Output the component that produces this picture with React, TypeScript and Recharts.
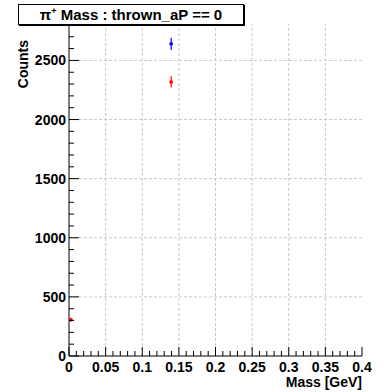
import React from 'react';
import {
  ComposedChart, Scatter, XAxis, YAxis, ErrorBar, ReferenceLine,
} from 'recharts';

// ---- data ----
const redPoints = [
  { mass: 0.0025, counts: 307, errY: 17, errX: 0.0025 },
  { mass: 0.1395, counts: 2318, errY: 48, errX: 0.0025 },
];
const bluePoints = [
  { mass: 0.1395, counts: 2640, errY: 51, errX: 0.0025 },
];
const xMajorTicks = [0, 0.05, 0.1, 0.15, 0.2, 0.25, 0.3, 0.35, 0.4];
const xTickLabels = ['0', '0.05', '0.1', '0.15', '0.2', '0.25', '0.3', '0.35', '0.4'];
const yMajorTicks = [0, 500, 1000, 1500, 2000, 2500];
const yTickLabels = ['0', '500', '1000', '1500', '2000', '2500'];
const xDomain = [0, 0.4];
const yDomain = [0, 2808];
const titleText = 'Mass : thrown_aP == 0';
const xTitle = 'Mass [GeV]';
const yTitle = 'Counts';

const xAllTicks: number[] = [];
for (let i = 0; i <= 40; i++) xAllTicks.push(i / 100);
const yAllTicks: number[] = [];
for (let v = 0; v <= 2800; v += 100) yAllTicks.push(v);

const FONT = '"Liberation Sans", Arial, Helvetica, sans-serif';
const MAJ = 9;
const MIN = 5;

const isMajorX = (v: number) => xMajorTicks.some((t) => Math.abs(t - v) < 1e-7);
const isMajorY = (v: number) => yMajorTicks.includes(v);

const BottomTick = (props: any) => {
  const { x, y, payload } = props;
  const v = payload.value;
  const major = isMajorX(v);
  const idx = xMajorTicks.findIndex((t) => Math.abs(t - v) < 1e-7);
  return (
    <g>
      <line x1={x} x2={x} y1={y} y2={y - (major ? MAJ : MIN)} stroke="#000" strokeWidth={1} />
      {major && (
        <text x={x} y={y + 16} textAnchor="middle" fontFamily={FONT} fontWeight="bold" fontSize={14} fill="#000">
          {xTickLabels[idx]}
        </text>
      )}
    </g>
  );
};

const TopTick = (props: any) => {
  const { x, y, payload } = props;
  const major = isMajorX(payload.value);
  return <line x1={x} x2={x} y1={y} y2={y + (major ? MAJ : MIN)} stroke="#000" strokeWidth={1} />;
};

const LeftTick = (props: any) => {
  const { x, y, payload } = props;
  const v = payload.value;
  const major = isMajorY(v);
  const idx = yMajorTicks.indexOf(v);
  return (
    <g>
      <line x1={x} x2={x + (major ? MAJ + 1 : MIN)} y1={y} y2={y} stroke="#000" strokeWidth={1} />
      {major && (
        <text x={x - 3} y={y + 5} textAnchor="end" fontFamily={FONT} fontWeight="bold" fontSize={14} fill="#000">
          {yTickLabels[idx]}
        </text>
      )}
    </g>
  );
};

const RightTick = (props: any) => {
  const { x, y, payload } = props;
  const major = isMajorY(payload.value);
  return <line x1={x} x2={x - (major ? MAJ + 1 : MIN)} y1={y} y2={y} stroke="#000" strokeWidth={1} />;
};

const makeMarker = (color: string) => (props: any) => {
  const { cx, cy } = props;
  if (cx == null || cy == null) return <g />;
  return <rect x={cx - 1.5} y={cy - 1.5} width={3} height={3} fill={color} />;
};

export default function App() {
  return (
    <div style={{ position: 'absolute', left: 0, top: 0, width: 385, height: 392, background: '#fff' }}>
      <ComposedChart
        width={385}
        height={392}
        margin={{ top: 24, right: 23, bottom: 0, left: 0 }}
      >
        <XAxis
          xAxisId="b"
          dataKey="mass"
          type="number"
          domain={xDomain}
          ticks={xAllTicks}
          interval={0}
          orientation="bottom"
          height={36}
          tickSize={0}
          tickMargin={0}
          tickLine={false}
          axisLine={{ stroke: '#000' }}
          tick={<BottomTick />}
          allowDataOverflow
        />
        <XAxis
          xAxisId="t"
          dataKey="mass"
          type="number"
          domain={xDomain}
          ticks={xAllTicks}
          interval={0}
          orientation="top"
          height={0}
          tickSize={0}
          tickMargin={0}
          tickLine={false}
          axisLine={{ stroke: '#000' }}
          tick={<TopTick />}
          allowDataOverflow
        />
        <YAxis
          yAxisId="l"
          type="number"
          domain={yDomain}
          ticks={yAllTicks}
          interval={0}
          orientation="left"
          width={69}
          tickSize={0}
          tickMargin={0}
          tickLine={false}
          axisLine={{ stroke: '#000' }}
          tick={<LeftTick />}
          allowDataOverflow
          label={{
            content: (p: any) => {
              const vb = p.viewBox || {};
              const tx = 28;
              const ty = (vb.y ?? 24) + 16;
              return (
                <text
                  x={tx}
                  y={ty}
                  transform={`rotate(-90 ${tx} ${ty})`}
                  textAnchor="end"
                  fontFamily={FONT}
                  fontWeight="bold"
                  fontSize={14}
                  fill="#000"
                >
                  {yTitle}
                </text>
              );
            },
          }}
        />
        <YAxis
          yAxisId="r"
          type="number"
          domain={yDomain}
          ticks={yAllTicks}
          interval={0}
          orientation="right"
          width={0}
          tickSize={0}
          tickMargin={0}
          tickLine={false}
          axisLine={{ stroke: '#000' }}
          tick={<RightTick />}
          allowDataOverflow
        />
        {xMajorTicks.slice(1, -1).map((v) => (
          <ReferenceLine key={'vx' + v} x={v} xAxisId="b" yAxisId="l" stroke="#c8c8c8" strokeDasharray="3 2" strokeWidth={1} />
        ))}
        {yMajorTicks.slice(1).map((v) => (
          <ReferenceLine key={'hy' + v} y={v} xAxisId="b" yAxisId="l" stroke="#c8c8c8" strokeDasharray="3 2" strokeWidth={1} />
        ))}
        <Scatter
          data={redPoints}
          dataKey="counts"
          xAxisId="b"
          yAxisId="l"
          fill="#ff0000"
          shape={makeMarker('#ff0000')}
          isAnimationActive={false}
        >
          <ErrorBar dataKey="errY" direction="y" width={0} stroke="#ff0000" strokeWidth={1.2} />
          <ErrorBar dataKey="errX" direction="x" width={0} stroke="#ff0000" strokeWidth={1.2} />
        </Scatter>
        <Scatter
          data={bluePoints}
          dataKey="counts"
          xAxisId="b"
          yAxisId="l"
          fill="#0000ff"
          shape={makeMarker('#0000ff')}
          isAnimationActive={false}
        >
          <ErrorBar dataKey="errY" direction="y" width={0} stroke="#0000ff" strokeWidth={1.2} />
          <ErrorBar dataKey="errX" direction="x" width={0} stroke="#0000ff" strokeWidth={1.2} />
        </Scatter>
      </ComposedChart>
      <div
        style={{
          position: 'absolute',
          left: 362 - 220,
          top: 375,
          width: 220,
          textAlign: 'right',
          fontFamily: FONT,
          fontWeight: 'bold',
          fontSize: 14,
          lineHeight: '14px',
          color: '#000',
        }}
      >
        {xTitle}
      </div>
      <div
        style={{
          position: 'absolute',
          left: 18,
          top: 4,
          width: 224,
          height: 19,
          border: '1px solid #000',
          boxShadow: '1px 1px 0 #000',
          background: '#fff',
          fontFamily: FONT,
          fontWeight: 'bold',
          fontSize: 15,
          lineHeight: '19px',
          textAlign: 'center',
          color: '#000',
          whiteSpace: 'nowrap',
        }}
      >
        π<sup style={{ fontSize: 9, verticalAlign: 'top', lineHeight: '12px' }}>+</sup> {titleText}
      </div>
    </div>
  );
}
